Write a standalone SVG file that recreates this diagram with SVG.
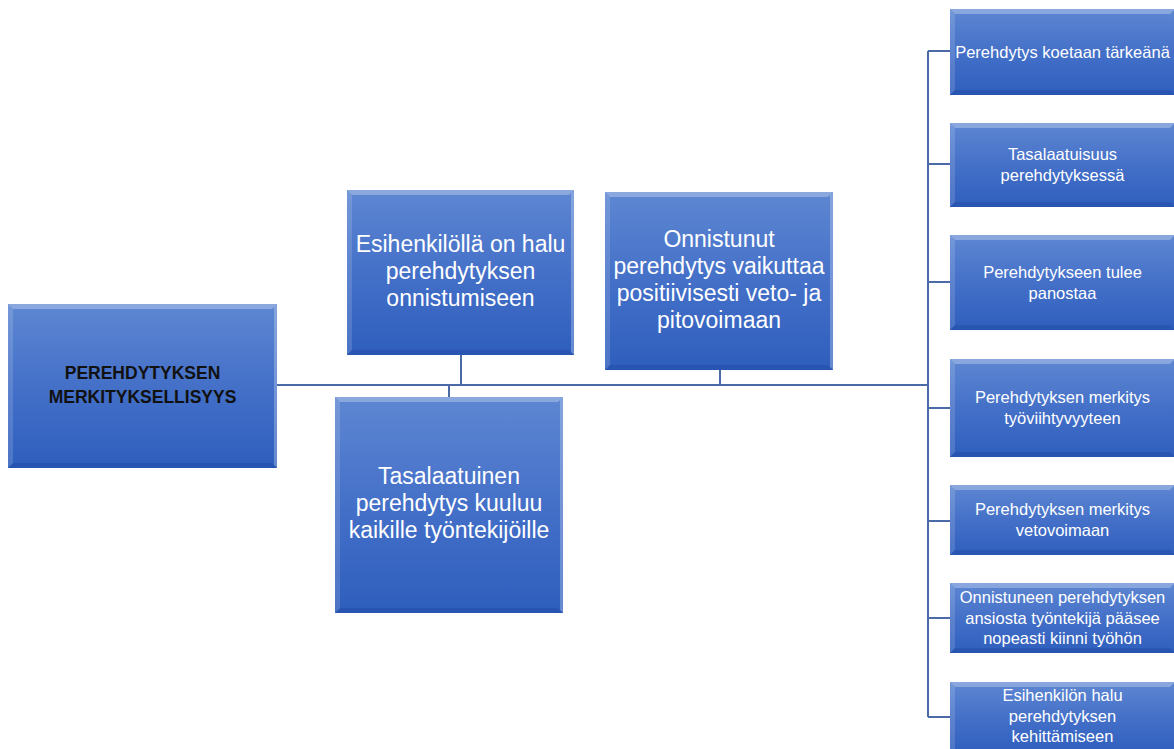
<svg xmlns="http://www.w3.org/2000/svg" width="1174" height="749" viewBox="0 0 1174 749">
  <defs>
    <linearGradient id="boxFill" x1="0" y1="0" x2="0" y2="1">
      <stop offset="0" stop-color="#5e87d2"/>
      <stop offset="0.5" stop-color="#4470c8"/>
      <stop offset="1" stop-color="#2e5ebd"/>
    </linearGradient>
  </defs>
  <style>
    .box { fill: url(#boxFill); }
    .bev-top { fill: #ffffff; fill-opacity: 0.28; }
    .bev-left { fill: #ffffff; fill-opacity: 0.14; }
    .bev-right { fill: #cfdcf3; fill-opacity: 0.35; }
    .bev-bot { fill: #0d2f78; fill-opacity: 0.18; }
    .lbl { font-family: "Liberation Sans", Arial, sans-serif; fill: #ffffff; text-anchor: middle; }
    .mid { font-size: 23px; }
    .side { font-size: 16.5px; }
    .root { font-family: "Liberation Sans", Arial, sans-serif; font-size: 17.5px; font-weight: bold; fill: #111111; text-anchor: middle; }
    .conn { stroke: #4a6aa8; stroke-width: 2; fill: none; }
  </style>

  <!-- connectors -->
  <g id="connectors">
    <path class="conn" d="M277 385 H928"/>
    <path class="conn" d="M928 51 V717"/>
    <path class="conn" d="M928 51 H950 M928 164 H950 M928 282 H950 M928 408 H950 M928 521 H950 M928 618 H950 M928 717 H950"/>
    <path class="conn" d="M461 355 V385"/>
    <path class="conn" d="M449 385 V397"/>
    <path class="conn" d="M720 370 V385"/>
  </g>

  <!-- root -->
  <g id="root">
    <rect class="box" x="8" y="304" width="269" height="164"/>
    <path class="bev-top" d="M8 304 H277 L272 309 H13 Z"/>
    <path class="bev-left" d="M8 304 L13 309 V463 L8 468 Z"/>
    <path class="bev-right" d="M277 304 V468 L274 465 V307 Z"/>
    <path class="bev-bot" d="M8 468 H277 L272 463 H13 Z"/>
    <text class="root" x="142.5" y="379">PEREHDYTYKSEN</text>
    <text class="root" x="142.5" y="403">MERKITYKSELLISYYS</text>
  </g>

  <!-- branch: Esihenkilöllä on halu -->
  <g id="node-halu">
    <rect class="box" x="347" y="190" width="227" height="165"/>
    <path class="bev-top" d="M347 190 H574 L569 195 H352 Z"/>
    <path class="bev-left" d="M347 190 L352 195 V350 L347 355 Z"/>
    <path class="bev-right" d="M574 190 V355 L571 352 V193 Z"/>
    <path class="bev-bot" d="M347 355 H574 L569 350 H352 Z"/>
    <text class="lbl mid" x="460.5" y="252">Esihenkilöllä on halu</text>
    <text class="lbl mid" x="460.5" y="279">perehdytyksen</text>
    <text class="lbl mid" x="460.5" y="306">onnistumiseen</text>
  </g>

  <!-- branch: Tasalaatuinen perehdytys -->
  <g id="node-tasalaatuinen">
    <rect class="box" x="335" y="397" width="228" height="216"/>
    <path class="bev-top" d="M335 397 H563 L558 402 H340 Z"/>
    <path class="bev-left" d="M335 397 L340 402 V608 L335 613 Z"/>
    <path class="bev-right" d="M563 397 V613 L560 610 V400 Z"/>
    <path class="bev-bot" d="M335 613 H563 L558 608 H340 Z"/>
    <text class="lbl mid" x="449" y="484">Tasalaatuinen</text>
    <text class="lbl mid" x="449" y="511">perehdytys kuuluu</text>
    <text class="lbl mid" x="449" y="538">kaikille työntekijöille</text>
  </g>

  <!-- branch: Onnistunut perehdytys -->
  <g id="node-onnistunut">
    <rect class="box" x="605" y="192" width="228" height="178"/>
    <path class="bev-top" d="M605 192 H833 L828 197 H610 Z"/>
    <path class="bev-left" d="M605 192 L610 197 V365 L605 370 Z"/>
    <path class="bev-right" d="M833 192 V370 L830 367 V195 Z"/>
    <path class="bev-bot" d="M605 370 H833 L828 365 H610 Z"/>
    <text class="lbl mid" x="719" y="247">Onnistunut</text>
    <text class="lbl mid" x="719" y="274">perehdytys vaikuttaa</text>
    <text class="lbl mid" x="719" y="301">positiivisesti veto- ja</text>
    <text class="lbl mid" x="719" y="328">pitovoimaan</text>
  </g>

  <!-- right column -->
  <g id="node-r1">
    <rect class="box" x="950" y="9" width="225" height="86"/>
    <path class="bev-top" d="M950 9 H1175 L1170 14 H955 Z"/>
    <path class="bev-left" d="M950 9 L955 14 V90 L950 95 Z"/>
    <path class="bev-bot" d="M950 95 H1175 L1170 90 H955 Z"/>
    <text class="lbl side" x="1062.5" y="57.5">Perehdytys koetaan tärkeänä</text>
  </g>
  <g id="node-r2">
    <rect class="box" x="950" y="123" width="225" height="84"/>
    <path class="bev-top" d="M950 123 H1175 L1170 128 H955 Z"/>
    <path class="bev-left" d="M950 123 L955 128 V202 L950 207 Z"/>
    <path class="bev-bot" d="M950 207 H1175 L1170 202 H955 Z"/>
    <text class="lbl side" x="1062.5" y="160">Tasalaatuisuus</text>
    <text class="lbl side" x="1062.5" y="181">perehdytyksessä</text>
  </g>
  <g id="node-r3">
    <rect class="box" x="950" y="235" width="225" height="95"/>
    <path class="bev-top" d="M950 235 H1175 L1170 240 H955 Z"/>
    <path class="bev-left" d="M950 235 L955 240 V325 L950 330 Z"/>
    <path class="bev-bot" d="M950 330 H1175 L1170 325 H955 Z"/>
    <text class="lbl side" x="1062.5" y="278">Perehdytykseen tulee</text>
    <text class="lbl side" x="1062.5" y="298.5">panostaa</text>
  </g>
  <g id="node-r4">
    <rect class="box" x="950" y="359" width="225" height="98"/>
    <path class="bev-top" d="M950 359 H1175 L1170 364 H955 Z"/>
    <path class="bev-left" d="M950 359 L955 364 V452 L950 457 Z"/>
    <path class="bev-bot" d="M950 457 H1175 L1170 452 H955 Z"/>
    <text class="lbl side" x="1062.5" y="403">Perehdytyksen merkitys</text>
    <text class="lbl side" x="1062.5" y="423.5">työviihtyvyyteen</text>
  </g>
  <g id="node-r5">
    <rect class="box" x="950" y="485" width="225" height="70"/>
    <path class="bev-top" d="M950 485 H1175 L1170 490 H955 Z"/>
    <path class="bev-left" d="M950 485 L955 490 V550 L950 555 Z"/>
    <path class="bev-bot" d="M950 555 H1175 L1170 550 H955 Z"/>
    <text class="lbl side" x="1062.5" y="515">Perehdytyksen merkitys</text>
    <text class="lbl side" x="1062.5" y="535.5">vetovoimaan</text>
  </g>
  <g id="node-r6">
    <rect class="box" x="950" y="583" width="225" height="70"/>
    <path class="bev-top" d="M950 583 H1175 L1170 588 H955 Z"/>
    <path class="bev-left" d="M950 583 L955 588 V648 L950 653 Z"/>
    <path class="bev-bot" d="M950 653 H1175 L1170 648 H955 Z"/>
    <text class="lbl side" x="1062.5" y="603">Onnistuneen perehdytyksen</text>
    <text class="lbl side" x="1062.5" y="623.5">ansiosta työntekijä pääsee</text>
    <text class="lbl side" x="1062.5" y="644">nopeasti kiinni työhön</text>
  </g>
  <g id="node-r7">
    <rect class="box" x="950" y="682" width="225" height="72"/>
    <path class="bev-top" d="M950 682 H1175 L1170 687 H955 Z"/>
    <path class="bev-left" d="M950 682 L955 687 V754 L950 754 Z"/>
    <text class="lbl side" x="1062.5" y="701">Esihenkilön halu</text>
    <text class="lbl side" x="1062.5" y="721.5">perehdytyksen</text>
    <text class="lbl side" x="1062.5" y="742">kehittämiseen</text>
  </g>
</svg>
